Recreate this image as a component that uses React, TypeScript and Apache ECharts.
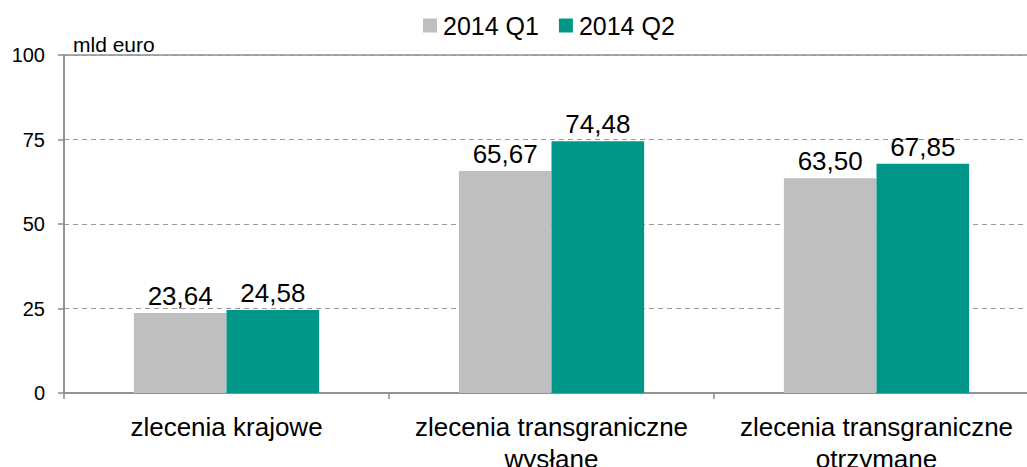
import React, { useEffect, useRef } from "react";
import * as echarts from "echarts";

const categories = [
  "zlecenia krajowe",
  "zlecenia transgraniczne\nwysłane",
  "zlecenia transgraniczne\notrzymane",
];
const seriesNames = ["2014 Q1", "2014 Q2"];
const q1Values = [23.64, 65.67, 63.5];
const q2Values = [24.58, 74.48, 67.85];
const yTicks = { min: 0, max: 100, interval: 25 };
const unitLabel = "mld euro";

const fmt = (v: number) => v.toFixed(2).replace(".", ",");

export default function App() {
  const ref = useRef<HTMLDivElement>(null);
  useEffect(() => {
    document.body.style.margin = "0";
    const chart = echarts.init(ref.current!, undefined, { renderer: "svg" });
    const font = "Liberation Sans, Arial, sans-serif";
    const barLabel = {
      show: true,
      position: "top",
      distance: 4,
      fontSize: 26,
      color: "#000",
      fontFamily: font,
      formatter: (p: any) => fmt(p.value),
    };
    chart.setOption({
      animation: false,
      textStyle: { fontFamily: font },
      legend: {
        top: 8,
        left: 418,
        itemWidth: 14,
        itemHeight: 14,
        itemGap: 20,
        icon: "rect",
        textStyle: { fontSize: 25, color: "#000", fontFamily: font, padding: [0, 0, 0, 1] },
        data: seriesNames,
      },
      grid: {
        left: 64,
        top: 55,
        width: 975,
        height: 338,
        outerBoundsMode: "none",
        containLabel: false,
        show: true,
        borderColor: "#8c8c8c",
        borderWidth: 1.5,
        backgroundColor: "transparent",
      },
      graphic: [
        {
          type: "text",
          left: 73,
          top: 34,
          style: { text: unitLabel, fontSize: 21, fill: "#000", fontFamily: font },
        },
      ],
      xAxis: {
        type: "category",
        data: categories,
        axisLine: { lineStyle: { color: "#8c8c8c", width: 1.5 } },
        axisTick: { show: true, length: 6, lineStyle: { color: "#8c8c8c", width: 1.5 } },
        axisLabel: {
          fontSize: 26,
          color: "#000",
          margin: 18,
          lineHeight: 32,
          fontFamily: font,
          interval: 0,
        },
      },
      yAxis: {
        type: "value",
        min: yTicks.min,
        max: yTicks.max,
        interval: yTicks.interval,
        axisLine: { show: true, lineStyle: { color: "#8c8c8c", width: 1.5 } },
        axisTick: { show: true, length: 6, lineStyle: { color: "#8c8c8c", width: 1.5 } },
        axisLabel: { fontSize: 20, color: "#000", margin: 19, fontFamily: font },
        splitLine: { lineStyle: { color: "#999", type: [5, 4], width: 1 } },
      },
      series: [
        {
          name: seriesNames[0],
          type: "bar",
          data: q1Values,
          barGap: "0%",
          barCategoryGap: "43%",
          itemStyle: { color: "#bfbfbf" },
          label: barLabel,
        },
        {
          name: seriesNames[1],
          type: "bar",
          data: q2Values,
          barGap: "0%",
          barCategoryGap: "43%",
          itemStyle: { color: "#009688" },
          label: barLabel,
        },
      ],
    });
    return () => chart.dispose();
  }, []);
  return <div ref={ref} style={{ width: 1027, height: 467 }} />;
}
